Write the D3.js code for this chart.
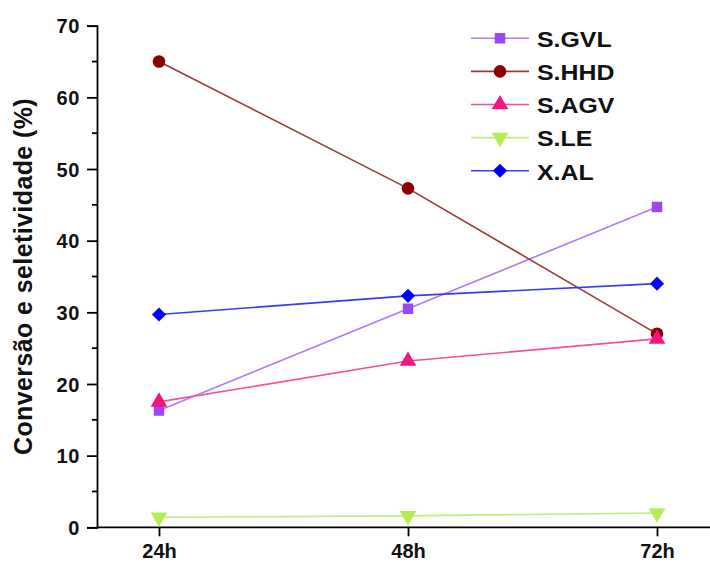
<!DOCTYPE html>
<html>
<head>
<meta charset="utf-8">
<script src="https://cdn.jsdelivr.net/npm/d3@7"></script>
<style>
  body { margin: 0; background: #fff; }
  svg { display: block; font-family: "Liberation Sans", Arial, sans-serif; font-weight: bold; }
</style>
</head>
<body>
<div id="chart"></div>
<script>
const width = 710;
const height = 562;

// Data
const times = ["24h", "48h", "72h"];
const sGVL = [16.3, 30.5, 44.7];
const sHHD = [65.0, 47.3, 27.0];
const sAGV = [17.5, 23.2, 26.3];
const sLE = [1.4, 1.6, 2.0];
const xAL = [29.7, 32.3, 34.0];
const yTicks = [0, 10, 20, 30, 40, 50, 60, 70];

const series = [
  { name: "S.GVL", values: sGVL, color: "#b07cf0", fill: "#9b45f5", symbol: d3.symbolSquare, size: 110 },
  { name: "S.HHD", values: sHHD, color: "#a03a3a", fill: "#8b0000", symbol: d3.symbolCircle, size: 125 },
  { name: "S.AGV", values: sAGV, color: "#f2509a", fill: "#f5157f", symbol: d3.symbolTriangle, size: 120 },
  { name: "S.LE", values: sLE, color: "#c2ec7a", fill: "#b6ec55", symbol: d3.symbolTriangle, size: 120, rot: 180 },
  { name: "X.AL", values: xAL, color: "#3a3af5", fill: "#0000ff", symbol: d3.symbolSquare, size: 100, rot: 45 }
];

const svg = d3.select("#chart")
  .append("svg")
  .attr("width", width)
  .attr("height", height);

const x = d3.scalePoint().domain(times).range([159, 657]);
const y = d3.scaleLinear().domain([0, 70]).range([527.3, 25.7]);
const x0 = 97;

// y axis: major ticks labelled, minor at 5s
const yAxis = d3.axisLeft(y).tickValues(yTicks).tickSize(10).tickPadding(7);
const gy = svg.append("g").attr("transform", `translate(${x0},0)`).call(yAxis);
gy.select(".domain").attr("stroke", "#000").attr("stroke-width", 1.8);
gy.selectAll(".tick line").attr("stroke", "#000").attr("stroke-width", 1.8);
gy.selectAll(".tick text")
  .attr("font-size", 20)
  .attr("letter-spacing", 0.6)
  .attr("fill", "#111")
  .attr("font-weight", "bold")
  .attr("dy", "0.36em");

svg.append("g")
  .selectAll("line")
  .data(d3.range(5, 70, 10))
  .join("line")
  .attr("x1", x0 - 5)
  .attr("x2", x0)
  .attr("y1", (d) => y(d))
  .attr("y2", (d) => y(d))
  .attr("stroke", "#000")
  .attr("stroke-width", 1.8);

// x axis runs to the right edge
const gx = svg.append("g").attr("transform", `translate(0,${y(0)})`)
  .call(d3.axisBottom(x).tickSize(9).tickPadding(8));
gx.select(".domain").remove();
gx.append("line")
  .attr("x1", x0).attr("x2", width)
  .attr("stroke", "#000").attr("stroke-width", 1.8);
gx.selectAll(".tick line").attr("stroke", "#000").attr("stroke-width", 1.8);
gx.selectAll(".tick text").attr("font-size", 20).attr("fill", "#111").attr("font-weight", "bold");

svg.append("text")
  .attr("transform", "translate(32,276.5) rotate(-90)")
  .attr("text-anchor", "middle")
  .attr("font-size", 25)
  .attr("letter-spacing", 0.4)
  .attr("fill", "#111")
  .text("Conversão e seletividade (%)");

const line = d3.line()
  .x((d, i) => x(times[i]))
  .y((d) => y(d));

const symbolPath = (s) => d3.symbol().type(s.symbol).size(s.size)();
const rot = (s) => (s.rot ? ` rotate(${s.rot})` : "");

series.forEach((s) => {
  const g = svg.append("g");
  g.append("path")
    .datum(s.values)
    .attr("d", line)
    .attr("fill", "none")
    .attr("stroke", s.color)
    .attr("stroke-width", 1.6);
  g.selectAll("path.marker")
    .data(s.values)
    .join("path")
    .attr("class", "marker")
    .attr("d", symbolPath(s))
    .attr("transform", (d, i) => `translate(${x(times[i])},${y(d)})` + rot(s))
    .attr("fill", s.fill);
});

// legend
const legend = svg.append("g").attr("transform", "translate(471,38.3)");
const rows = legend.selectAll("g")
  .data(series)
  .join("g")
  .attr("transform", (d, i) => `translate(0,${i * 33.1})`);
rows.append("line")
  .attr("x1", 0).attr("x2", 58)
  .attr("stroke", (d) => d.color)
  .attr("stroke-width", 1.6);
rows.append("path")
  .attr("d", (d) => symbolPath(d))
  .attr("transform", (d) => "translate(29,0)" + rot(d))
  .attr("fill", (d) => d.fill);
rows.append("text")
  .attr("transform", "translate(66,0) scale(1.13,1)")
  .attr("dy", "0.4em")
  .attr("font-size", 22)
  .attr("fill", "#111")
  .text((d) => d.name);
</script>
</body>
</html>
